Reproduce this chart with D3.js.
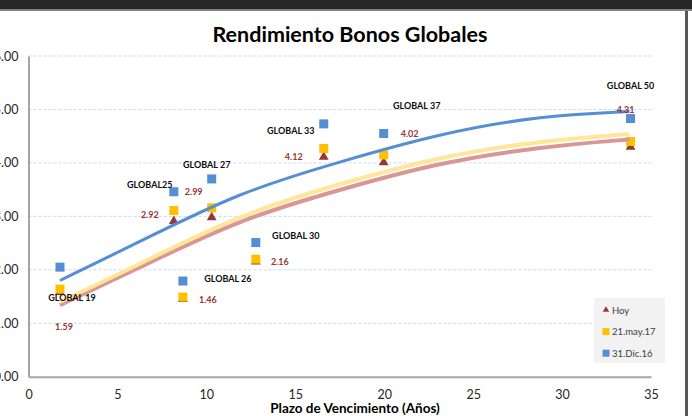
<!DOCTYPE html>
<html>
<head>
<meta charset="utf-8">
<script src="https://cdn.jsdelivr.net/npm/d3@7/dist/d3.min.js"></script>
<style>
  body { margin: 0; background: #fff; }
  svg { display: block; font-family: Lato, "Open Sans", sans-serif; }
</style>
</head>
<body>
<svg id="chart"></svg>
<script>
// bonds and their maturity (years)
const bonds = ["GLOBAL 19", "GLOBAL25", "GLOBAL 26", "GLOBAL 27", "GLOBAL 30", "GLOBAL 33", "GLOBAL 37", "GLOBAL 50"];
const plazo = [1.77, 8.17, 8.68, 10.30, 12.78, 16.60, 19.97, 33.85];

// yields per date
const hoy = [1.59, 2.92, 1.46, 2.99, 2.16, 4.12, 4.02, 4.31];
const may17 = [1.64, 3.11, 1.49, 3.16, 2.20, 4.27, 4.15, 4.40];
const dic16 = [2.05, 3.46, 1.79, 3.70, 2.51, 4.73, 4.55, 4.83];

// trend lines
const trendX = [1.77, 5.98, 11.88, 17.50, 23.12, 28.74, 33.79];
const trendHoy = [1.34, 2.00, 2.95, 3.50, 4.01, 4.30, 4.44];
const trendMay = [1.40, 2.06, 3.04, 3.61, 4.12, 4.41, 4.54];
const trendDic = [1.80, 2.48, 3.46, 4.02, 4.55, 4.88, 4.96];

const xTicks = [0, 5, 10, 15, 20, 25, 30, 35];
const yTicks = [0, 1, 2, 3, 4, 5, 6];
const legendLabels = ["Hoy", "21.may.17", "31.Dic.16"];

// label offsets (px) from the markers
const nameDx = [12, -24, 45, -5, 40, -33, 33, 0];
const nameDy = [30, -7, -3, -14, -7, 7, -28, -33];
const valDx = [4, -24, 25, -18, 24, -30, 26, -5];
const valDy = [35, -6, 1, -25, 0, 0, -28, -37];

const width = 692, height = 416;
const cBlue = "#558ED5", cYellow = "#FFC000", cRed = "#953735";

const svg = d3.select("#chart").attr("width", width).attr("height", height);

const x = d3.scaleLinear().domain([0, 35]).range([28.5, 651]);
const y = d3.scaleLinear().domain([0, 6]).range([376.7, 56]);

// window frame bits
svg.append("rect").attr("x", 0).attr("y", 0).attr("width", width).attr("height", 9).attr("fill", "#262626");
svg.append("rect").attr("x", 0).attr("y", 9).attr("width", width).attr("height", 2).attr("fill", "#808080");
svg.append("rect").attr("x", 685).attr("y", 11).attr("width", 3).attr("height", height - 11).attr("fill", "#595959");

// title
svg.append("text")
  .attr("x", 350).attr("y", 42)
  .attr("text-anchor", "middle")
  .style("font-size", "21.5px").style("font-weight", "bold")
  .attr("fill", "#000")
  .text("Rendimiento Bonos Globales");

// gridlines
svg.append("g").selectAll("line")
  .data(yTicks.filter(d => d > 0))
  .enter().append("line")
  .attr("x1", x(0)).attr("x2", x(35))
  .attr("y1", d => y(d)).attr("y2", d => y(d))
  .attr("stroke", "#c9d7ef").attr("stroke-width", 1)
  .attr("stroke-dasharray", "3,2");

// axes
const xAxis = svg.append("g")
  .attr("transform", "translate(0," + y(0) + ")")
  .call(d3.axisBottom(x).tickValues(xTicks).tickSize(0).tickPadding(13).tickFormat(d3.format("d")));
xAxis.select(".domain").attr("stroke", "#a6a6a6").attr("stroke-width", 2);
xAxis.selectAll("text").style("font-size", "12.5px").style("font-family", "Lato, sans-serif").attr("fill", "#262626");

const yAxis = svg.append("g")
  .attr("transform", "translate(" + x(0) + ",0)")
  .call(d3.axisLeft(y).tickValues(yTicks).tickSize(0).tickPadding(10).tickFormat(d3.format(".2f")));
yAxis.select(".domain").attr("stroke", "#a6a6a6").attr("stroke-width", 2);
yAxis.selectAll("text").style("font-size", "12.5px").style("font-family", "Lato, sans-serif").attr("fill", "#262626");

svg.append("text")
  .attr("x", 355).attr("y", 413)
  .attr("text-anchor", "middle")
  .style("font-size", "13.5px").style("font-weight", "bold")
  .attr("fill", "#000")
  .text("Plazo de Vencimiento  (Años)");

// markers
const tri = d3.symbol().type(d3.symbolTriangle).size(42);
svg.append("g").selectAll("path")
  .data(hoy)
  .enter().append("path")
  .attr("d", tri)
  .attr("transform", (d, i) => "translate(" + x(plazo[i]) + "," + (y(d) + 0.5) + ")")
  .attr("fill", cRed);

svg.append("g").selectAll("rect")
  .data(may17)
  .enter().append("rect")
  .attr("x", (d, i) => x(plazo[i]) - 4.5).attr("y", d => y(d) - 4.5)
  .attr("width", 9).attr("height", 9)
  .attr("fill", cYellow);

svg.append("g").selectAll("rect")
  .data(dic16)
  .enter().append("rect")
  .attr("x", (d, i) => x(plazo[i]) - 4.5).attr("y", d => y(d) - 4.5)
  .attr("width", 9).attr("height", 9)
  .attr("fill", cBlue);

// trend lines
const line = d3.line()
  .x((d, i) => x(trendX[i]))
  .y(d => y(d))
  .curve(d3.curveBasis);

svg.append("path").datum(trendHoy).attr("d", line)
  .attr("fill", "none").attr("stroke", "#D99694").attr("stroke-width", 4);
svg.append("path").datum(trendMay).attr("d", line)
  .attr("fill", "none").attr("stroke", "#FFE699").attr("stroke-width", 4);
svg.append("path").datum(trendDic).attr("d", line)
  .attr("fill", "none").attr("stroke", cBlue).attr("stroke-width", 3);

// bond names
svg.append("g").selectAll("text")
  .data(bonds)
  .enter().append("text")
  .attr("x", (d, i) => x(plazo[i]) + nameDx[i])
  .attr("y", (d, i) => y(dic16[i]) + nameDy[i])
  .attr("text-anchor", "middle").attr("dominant-baseline", "central")
  .style("font-size", "9px").style("font-weight", "bold")
  .attr("fill", "#0d0d0d")
  .text(d => d);

// today's values
svg.append("g").selectAll("text")
  .data(hoy)
  .enter().append("text")
  .attr("x", (d, i) => x(plazo[i]) + valDx[i])
  .attr("y", (d, i) => y(d) + valDy[i])
  .attr("text-anchor", "middle").attr("dominant-baseline", "central")
  .style("font-size", "9px").style("font-weight", "bold")
  .attr("fill", cRed)
  .text(d => d3.format(".2f")(d));

// legend
const lg = svg.append("g").attr("transform", "translate(594,298)");
lg.append("rect").attr("width", 71).attr("height", 65).attr("fill", "#f2f2f2");
const rows = lg.selectAll("g.row")
  .data(legendLabels)
  .enter().append("g")
  .attr("transform", (d, i) => "translate(12," + (12 + i * 21.6) + ")");
rows.each(function (d, i) {
  const g = d3.select(this);
  if (i === 0) {
    g.append("path").attr("d", d3.symbol().type(d3.symbolTriangle).size(18)).attr("fill", cRed);
  } else {
    g.append("rect").attr("x", -3.5).attr("y", -3.5).attr("width", 7).attr("height", 7)
      .attr("fill", i === 1 ? cYellow : cBlue);
  }
});
rows.append("text")
  .attr("x", 6).attr("dominant-baseline", "central")
  .style("font-size", "9.5px")
  .attr("fill", "#404040")
  .text(d => d);
</script>
</body>
</html>
